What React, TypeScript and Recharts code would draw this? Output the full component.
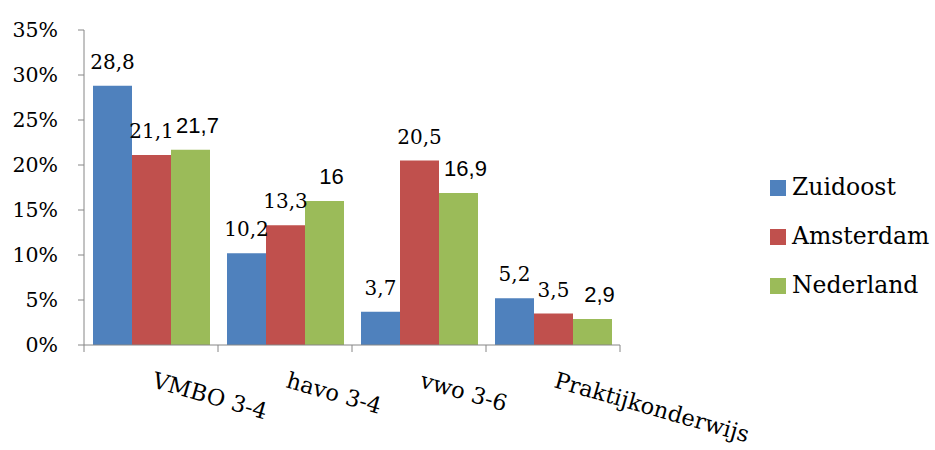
import { BarChart, Bar, XAxis, YAxis, Legend, LabelList } from 'recharts';

const categories = ['VMBO 3-4', 'havo 3-4', 'vwo 3-6', 'Praktijkonderwijs'];
const zuidoost = [28.8, 10.2, 3.7, 5.2];
const amsterdam = [21.1, 13.3, 20.5, 3.5];
const nederland = [21.7, 16, 16.9, 2.9];
const yTicks = [0, 5, 10, 15, 20, 25, 30, 35];

const seriesList = [
  { key: 'zuidoost', name: 'Zuidoost', color: '#4F81BD', serif: true },
  { key: 'amsterdam', name: 'Amsterdam', color: '#C0504D', serif: true },
  { key: 'nederland', name: 'Nederland', color: '#9BBB59', serif: false },
];

const chartData = categories.map((name, i) => ({
  name,
  zuidoost: zuidoost[i],
  amsterdam: amsterdam[i],
  nederland: nederland[i],
}));

const AXIS = '#868686';
const SERIF = '"DejaVu Serif", serif';
const SANS = '"Liberation Sans", Arial, sans-serif';

function CategoryTick(props: any) {
  const { x, y, payload, index, visibleTicksCount } = props;
  const half = payload?.offset ?? 67;
  const ly = y + 42;
  return (
    <g>
      <line x1={x - half} y1={y} x2={x - half} y2={y + 7} stroke={AXIS} />
      {index === visibleTicksCount - 1 && (
        <line x1={x + half} y1={y} x2={x + half} y2={y + 7} stroke={AXIS} />
      )}
      <text
        x={x}
        y={ly}
        transform={`rotate(16 ${x} ${ly})`}
        textAnchor="start"
        fontFamily={SERIF}
        fontSize={22.5}
        fill="#000"
      >
        {payload.value}
      </text>
    </g>
  );
}

function makeLabel(serif: boolean) {
  return (props: any) => {
    const { x, y, width, value } = props;
    // green labels sit a little right of their bar, as in the original
    const shift = serif ? 0 : 7;
    return (
      <text
        x={x + width / 2 + shift}
        y={y - 17}
        textAnchor="middle"
        fontFamily={serif ? SERIF : SANS}
        fontSize={serif ? 20 : 22}
        fill="#000"
      >
        {String(value).replace('.', ',')}
      </text>
    );
  };
}

function LegendBox() {
  return (
    <div>
      {seriesList.map(s => (
        <div key={s.key} style={{ display: 'flex', alignItems: 'center', height: 49 }}>
          <span style={{ width: 16, height: 16, background: s.color, marginRight: 6, display: 'inline-block' }} />
          <span style={{ fontFamily: SERIF, fontSize: 23.5, color: '#000', lineHeight: 1 }}>{s.name}</span>
        </div>
      ))}
    </div>
  );
}

export default function App() {
  return (
    <div style={{ position: 'absolute', left: 0, top: 0, background: '#fff' }}>
      <BarChart
        width={935}
        height={450}
        data={chartData}
        margin={{ top: 30, right: 315, bottom: 0, left: 0 }}
        barCategoryGap={9}
        barGap={0}
      >
        <XAxis
          dataKey="name"
          height={105}
          tickSize={0}
          tickMargin={0}
          tickLine={false}
          axisLine={{ stroke: AXIS }}
          tick={<CategoryTick />}
          interval={0}
        />
        <YAxis
          width={84}
          domain={[0, 35]}
          ticks={yTicks}
          interval={0}
          tickFormatter={v => `${v}%`}
          tickSize={6}
          tickMargin={20}
          axisLine={{ stroke: AXIS }}
          tickLine={{ stroke: AXIS }}
          tick={{ fill: '#000', fontFamily: SERIF, fontSize: 20.5 }}
        />
        <Legend
          layout="vertical"
          align="center"
          verticalAlign="middle"
          content={<LegendBox />}
          wrapperStyle={{ left: 770, top: 163, width: 165 }}
        />
        {seriesList.map(s => (
          <Bar key={s.key} dataKey={s.key} name={s.name} fill={s.color} isAnimationActive={false}>
            <LabelList dataKey={s.key} content={makeLabel(s.serif)} />
          </Bar>
        ))}
      </BarChart>
    </div>
  );
}
